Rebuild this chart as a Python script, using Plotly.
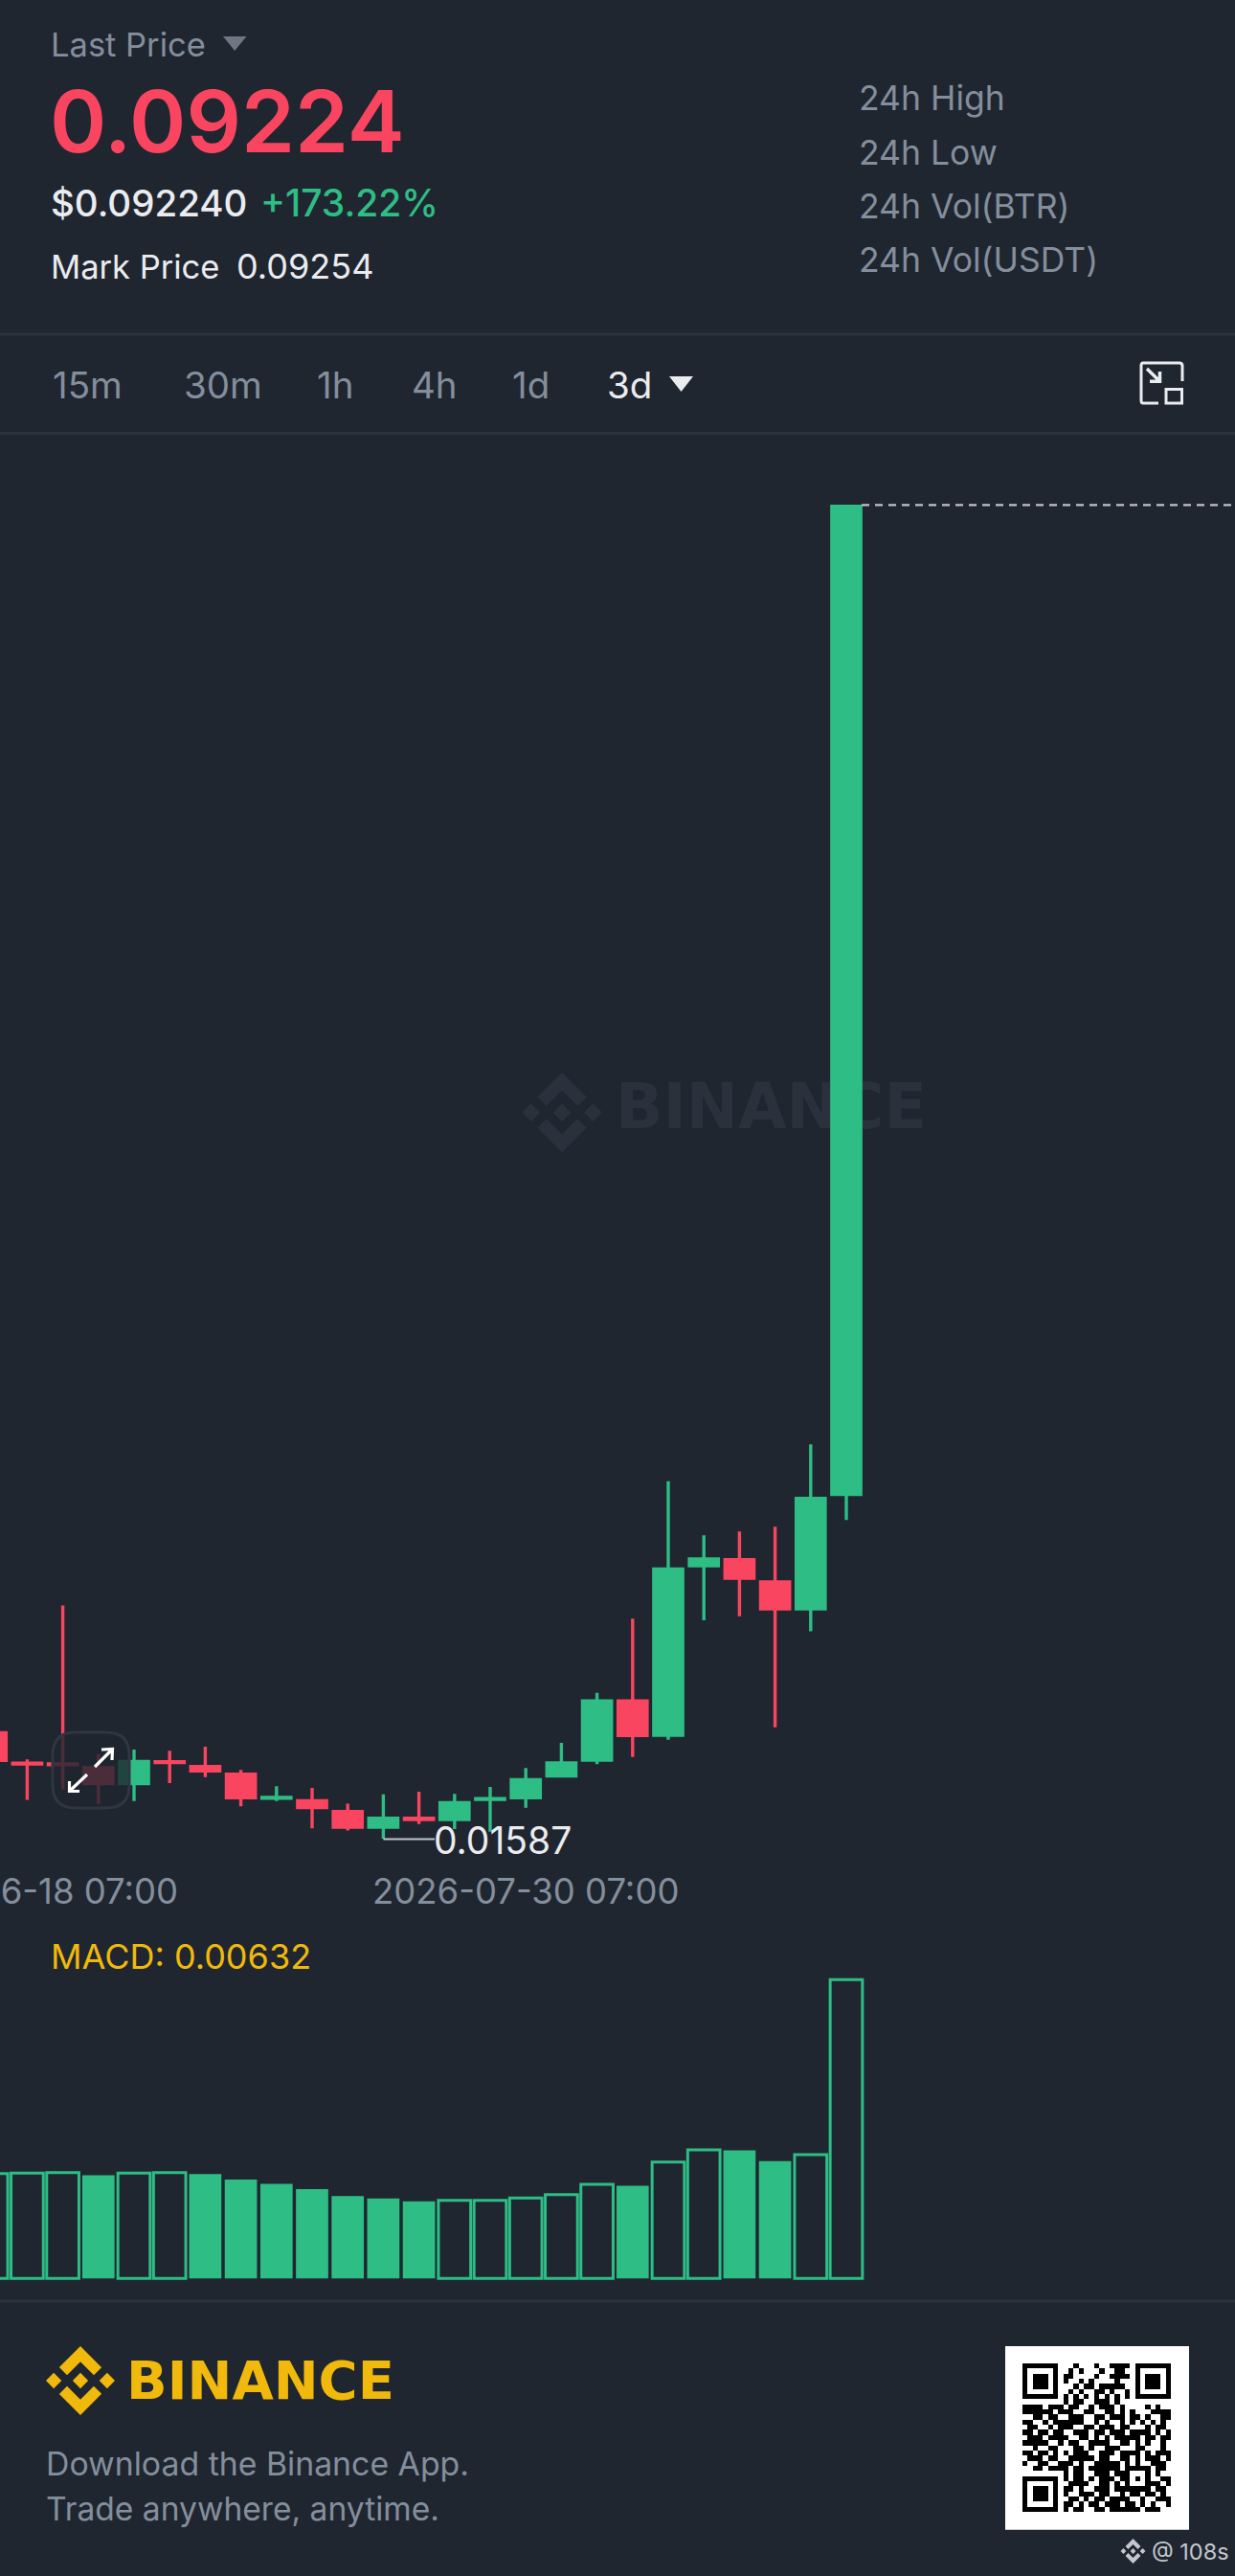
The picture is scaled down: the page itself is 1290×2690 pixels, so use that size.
import plotly.graph_objects as go

# ---------- data ----------
dates = ["2026-06-15 07:00","2026-06-18 07:00","2026-06-21 07:00","2026-06-24 07:00","2026-06-27 07:00",
         "2026-06-30 07:00","2026-07-03 07:00","2026-07-06 07:00","2026-07-09 07:00","2026-07-12 07:00",
         "2026-07-15 07:00","2026-07-18 07:00","2026-07-21 07:00","2026-07-24 07:00","2026-07-27 07:00",
         "2026-07-30 07:00","2026-08-02 07:00","2026-08-05 07:00","2026-08-08 07:00","2026-08-11 07:00",
         "2026-08-14 07:00","2026-08-17 07:00","2026-08-20 07:00","2026-08-23 07:00","2026-08-26 07:00"]
opens  = [0.02194,0.02020,0.02015,0.01993,0.01902,0.02028,0.02000,0.01956,0.01819,0.01804,0.01742,0.01653,0.01704,
          0.01697,0.01812,0.01821,0.01946,0.02037,0.02377,0.02180,0.03151,0.03186,0.03058,0.02904,0.03560]
highs  = [0.02246,0.02041,0.02923,0.02072,0.02098,0.02090,0.02114,0.01981,0.01887,0.01878,0.01788,0.01841,0.01856,
          0.01843,0.01883,0.01992,0.02136,0.02423,0.02848,0.03636,0.03325,0.03347,0.03375,0.03847,0.09224]
lows   = [0.02015,0.01810,0.01869,0.01786,0.01803,0.01905,0.01940,0.01772,0.01803,0.01646,0.01633,0.01587,0.01671,
          0.01642,0.01627,0.01764,0.01937,0.02014,0.02055,0.02154,0.02839,0.02862,0.02225,0.02776,0.03413]
closes = [0.02035,0.02015,0.02011,0.01902,0.02029,0.02023,0.01975,0.01821,0.01823,0.01765,0.01653,0.01704,0.01697,
          0.01793,0.01816,0.01925,0.02021,0.02377,0.02178,0.03133,0.03190,0.03080,0.02904,0.03537,0.09224]
macd   = [0.00222,0.00223,0.00224,0.00218,0.00223,0.00224,0.00221,0.00209,0.00200,0.00189,0.00174,0.00169,0.00163,
          0.00165,0.00165,0.00170,0.00177,0.00199,0.00196,0.00246,0.00272,0.00271,0.00248,0.00262,0.00632]
macd_hollow = [1,1,1,0,1,1,0,0,0,0,0,0,0,1,1,1,1,1,0,1,1,0,0,1,1]
date_ticks = ["2026-06-18 07:00", "2026-07-30 07:00"]
qr_rows = [
 "11111110001000100111101111111",
 "10000010010100010011001000001",
 "10111010110000100111101011101",
 "10111010100101000010001011101",
 "10111010001011011111001011101",
 "10000010010100110100101000001",
 "11111110101010101010101111111",
 "00000000101100111010000000000",
 "11110111011001011101000010100",
 "11111101110011001101010001111",
 "00110110011100110111011010011",
 "11001011111100101001010101010",
 "01100101110011011101100010110",
 "11011011001110110111011110101",
 "01110111100110101011111011011",
 "11111001011001111001101010010",
 "00100110001101001110001100010",
 "11011010101110011101111010111",
 "01110110011111011001101011101",
 "10011001110100111110101001110",
 "00110111101101111110111110110",
 "00000000101100111011100010100",
 "11111110101101011101101010011",
 "10000010011110011010100011101",
 "10111010110100111011111110110",
 "10111010100111011001011011010",
 "10111010011010110111100100111",
 "10000010110101101110110101001",
 "11111110101100110111111011100",
]

# ---------- style ----------
W, H = 1290, 2690
BG = "#1F2630"
GREEN = "#2EBD85"
RED = "#FA4560"
GRAY = "#848E9C"
WHITE = "#EAECEF"
GOLD = "#F0B90B"
LINE = "#2B313D"
WM = "#2A303C"
FONT = "Inter"

fig = go.Figure()

# page-pixel layer (lowest subplot): watermark and QR code
fig.add_trace(go.Scatter(x=[643], y=[1161.7], mode="text", text=["BINANCE"], textposition="middle right",
                         textfont=dict(family="DejaVu Sans", size=65, color=WM, weight=700),
                         hoverinfo="skip", showlegend=False, xaxis="x", yaxis="y"))
MOD = 155.4 / 29
fig.add_trace(go.Heatmap(z=[[int(c) for c in r[:29].ljust(29, "0")] for r in qr_rows],
                         x0=1068 + MOD / 2, dx=MOD, y0=2468 + MOD / 2, dy=MOD,
                         colorscale=[[0, "#FFFFFF"], [1, "#000000"]], zmin=0, zmax=1, showscale=False,
                         hoverinfo="skip", xaxis="x", yaxis="y"))

# candles
fig.add_trace(go.Candlestick(x=dates, open=opens, high=highs, low=lows, close=closes, xaxis="x2", yaxis="y2",
                             increasing=dict(line=dict(color=GREEN, width=3.4), fillcolor=GREEN),
                             decreasing=dict(line=dict(color=RED, width=3.4), fillcolor=RED),
                             whiskerwidth=0, showlegend=False, hoverinfo="skip"))

# MACD histogram
fig.add_trace(go.Bar(x=dates, y=macd, xaxis="x3", yaxis="y3", showlegend=False, hoverinfo="skip",
                     marker=dict(color=["rgba(0,0,0,0)" if h else GREEN for h in macd_hollow],
                                 line=dict(color=GREEN, width=[3 if h else 0 for h in macd_hollow]))))

XR = ["2026-06-16 00:02", "2026-09-28 00:48"]
fig.update_layout(
    width=W, height=H, margin=dict(l=0, r=0, t=0, b=0), paper_bgcolor=BG, plot_bgcolor="rgba(0,0,0,0)",
    showlegend=False, boxgap=0.1855, boxgroupgap=0, bargap=0.094, font=dict(family=FONT),
    xaxis=dict(domain=[0, 1], range=[0, W], visible=False, fixedrange=True),
    yaxis=dict(domain=[0, 1], range=[H, 0], visible=False, fixedrange=True),
    xaxis2=dict(domain=[0, 1], anchor="y2", type="date", range=XR, rangeslider=dict(visible=False),
                tickvals=date_ticks, tickformat="%Y-%m-%d %H:%M", showgrid=False, zeroline=False, showline=False,
                ticks="outside", ticklen=6, tickcolor="rgba(0,0,0,0)", ticklabeloverflow="allow",
                tickfont=dict(family=FONT, size=36.5, color=GRAY), automargin=False),
    yaxis2=dict(domain=[1 - 1937 / H, 1 - 452 / H], anchor="x2", range=[0.014937, 0.09645], visible=False),
    xaxis3=dict(domain=[0, 1], anchor="y3", type="date", range=XR, visible=False),
    yaxis3=dict(domain=[1 - 2390 / H, 1 - 2040 / H], anchor="x3", range=[-0.000217, 0.00687], visible=False),
)

def T(x, y, s, size, color, weight=400, anchor="left", family=FONT):
    fig.add_annotation(x=x, y=y, xref="x", yref="y", text=s, showarrow=False, xanchor=anchor, yanchor="middle",
                       font=dict(family=family, size=size, color=color, weight=weight), borderpad=0, borderwidth=0)

def P(path, color=None, stroke=None, width=0, layer="above"):
    fig.add_shape(type="path", path=path, xref="x", yref="y", layer=layer,
                  fillcolor=color or "rgba(0,0,0,0)", line=dict(color=stroke or "rgba(0,0,0,0)", width=width))

def L(x0, y0, x1, y1, color, width, dash=None):
    fig.add_shape(type="line", x0=x0, y0=y0, x1=x1, y1=y1, xref="x", yref="y",
                  line=dict(color=color, width=width, dash=dash))

LOGO = [[(38.73,53.2),(63.3,28.63),(87.89,53.22),(102.19,38.92),(63.3,0),(24.42,38.9)],
        [(0,63.31),(14.3,49.01),(28.6,63.31),(14.3,77.61)],
        [(63.31,49),(77.61,63.3),(63.31,77.6),(49,63.3)],
        [(98.01,63.31),(112.31,49.01),(126.61,63.31),(112.31,77.61)],
        [(38.73,73.41),(63.3,97.98),(87.89,73.4),(102.2,87.69),(63.3,126.61),(24.42,87.7)]]

def logo(cx, cy, size, color, layer="above"):
    k = size / 126.61
    for poly in LOGO:
        d = "M" + " L".join(f"{cx + (a - 63.3) * k:.2f},{cy + (b - 63.3) * k:.2f}" for a, b in poly) + " Z"
        P(d, color=color, layer=layer)

# watermark mark (below everything)
logo(587, 1161.7, 83.5, WM, layer="below")

# header
T(53, 46.7, "Last Price", 34.5, GRAY)
P("M233,38 L257.5,38 L245.2,53 Z", color="#6F7683")
T(52, 126.7, "0.09224", 90, RED, weight=600)
T(53, 211.7, "$0.092240", 38.5, WHITE, weight=500)
T(272, 211.7, "+173.22%", 39, GREEN, weight=500)
T(53, 278, "Mark Price", 34.5, WHITE)
T(247, 278, "0.09254", 36, WHITE)
for yy, s in zip([102.7, 159, 215, 271], ["24h High", "24h Low", "24h Vol(BTR)", "24h Vol(USDT)"]):
    T(897, yy, s, 35.5, GRAY)
L(0, 349, W, 349, LINE, 3)
L(0, 452.5, W, 452.5, LINE, 3)

# interval tabs
for xx, s, c in zip([55, 192, 331, 430, 535, 634], ["15m", "30m", "1h", "4h", "1d", "3d"],
                    [GRAY, GRAY, GRAY, GRAY, GRAY, WHITE]):
    T(xx, 401.7, s, 38.5, c)
P("M699,393 L724,393 L711.5,409 Z", color=WHITE)
P("M1235,398 L1235,382 Q1235,379 1232,379 L1194,379 Q1192,379 1192,382 L1192,418 Q1192,421 1194,421 L1210,421",
  stroke=WHITE, width=3)
P("M1218,406.5 L1234.5,406.5 L1234.5,421 L1218,421 Z", stroke=WHITE, width=3)
P("M1198,385 L1211.5,398.3 M1201,398.3 L1211.5,398.3 L1211.5,388", stroke=WHITE, width=3.5)

# last price line, low marker
L(900, 527.3, W, 527.3, "#BFC3C9", 2.2, dash="8px,6px")
L(400.4, 1920.5, 454, 1920.5, "#C4C6CA", 2)
T(453, 1921.7, "0.01587", 39, WHITE)

# expand button over the chart
P("M79,1809 L111,1809 Q135,1809 135,1833 L135,1864 Q135,1888 111,1888 L79,1888 Q55,1888 55,1864 L55,1833 Q55,1809 79,1809 Z",
  color="rgba(31,38,48,0.8)", stroke="#2F3541", width=3)
P("M99,1845 L117,1827 M106,1827 L117.5,1826.5 L117,1838", stroke="#FFFFFF", width=3.2)
P("M91,1853 L72.5,1870.5 M72.5,1860 L72.5,1870.5 L83,1870.5", stroke="#FFFFFF", width=3.2)

# MACD label
T(53, 2043, "MACD: 0.00632", 36, GOLD)

# footer
L(0, 2403, W, 2403, LINE, 3)
logo(84, 2486, 72, GOLD)
T(132, 2485.7, "BINANCE", 56, GOLD, weight=700, family="DejaVu Sans")
T(48, 2572.7, "Download the Binance App.", 33.8, GRAY)
T(48, 2619, "Trade anywhere, anytime.", 33.6, GRAY)
fig.add_shape(type="rect", x0=1050, x1=1242, y0=2450, y1=2641.7, xref="x", yref="y", layer="below",
              fillcolor="#FFFFFF", line=dict(width=0))
logo(1183.5, 2664, 26, "#C4C8CE")
T(1203, 2664, "@ 108s", 23.5, "#C4C8CE")

fig.write_html("out.html", config={"displayModeBar": False, "responsive": False},
               post_script="document.body.style.margin='0';document.documentElement.style.background='%s';" % BG)
